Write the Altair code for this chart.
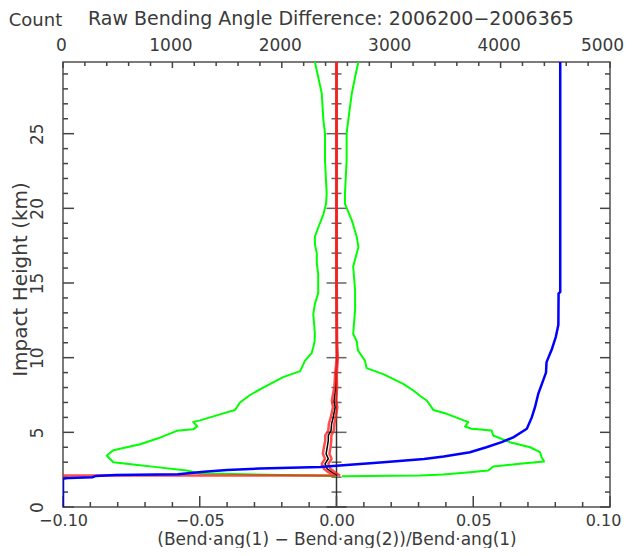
import altair as alt
import pandas as pd

# ---------------- data ----------------
# green envelope, left branch (fractional difference, impact height km)
green_left_x = [-0.0079, -0.0067, -0.0054, -0.0048, -0.0042, -0.0042, -0.0036, -0.0038, -0.0048, -0.0067,
                -0.0079, -0.0079, -0.0072, -0.0072, -0.0067, -0.0067, -0.0067, -0.0079, -0.0085, -0.0082,
                -0.0079, -0.0080, -0.0085, -0.0091, -0.0115, -0.0133, -0.0195, -0.0268, -0.0316, -0.0353,
                -0.0371, -0.0426, -0.0499, -0.0524, -0.0509, -0.0524, -0.0584, -0.0652, -0.0718, -0.0816,
                -0.0840, -0.0816, -0.0743, -0.0657, -0.0548, -0.0500, -0.0420, 0.0]
green_left_h = [29.8, 28.8, 27.7, 25.9, 25.0, 23.2, 21.0, 20.3, 19.6, 18.7,
                18.1, 17.6, 17.0, 16.3, 15.6, 14.9, 14.3, 13.6, 12.9, 12.3,
                11.6, 11.1, 10.7, 10.3, 9.8, 9.1, 8.7, 8.0, 7.5, 7.0,
                6.5, 6.2, 5.8, 5.7, 5.4, 5.2, 5.1, 4.6, 4.2, 3.8,
                3.45, 3.0, 2.85, 2.67, 2.44, 2.25, 2.22, 2.08]

# green envelope, right branch
green_right_x = [0.0080, 0.0068, 0.0056, 0.0043, 0.0037, 0.0037, 0.0031, 0.0031, 0.0056, 0.0074,
                 0.0080, 0.0061, 0.0068, 0.0068, 0.0061, 0.0074, 0.0078, 0.0104, 0.0110, 0.0171,
                 0.0244, 0.0281, 0.0305, 0.0330, 0.0354, 0.0403, 0.0482, 0.0470, 0.0494, 0.0567,
                 0.0573, 0.0634, 0.0708, 0.0744, 0.0750, 0.0759, 0.0671, 0.0573, 0.0555, 0.0488,
                 0.0390, 0.0305, 0.0020]
green_right_h = [29.8, 28.8, 27.7, 25.9, 25.0, 23.2, 21.0, 20.3, 19.2, 18.1,
                 17.4, 16.1, 14.5, 13.2, 11.6, 11.1, 10.5, 9.8, 9.3, 8.9,
                 8.25, 7.8, 7.45, 7.13, 6.5, 6.24, 5.68, 5.39, 5.24, 5.12,
                 4.79, 4.34, 4.0, 3.67, 3.34, 3.05, 2.89, 2.71, 2.44, 2.33,
                 2.18, 2.11, 2.06]

# black mean profile
mean_x = [0.0, 0.0, 0.0, 0.0001, 0.0003, -0.0002, -0.0003, -0.0009, -0.0005, -0.0012,
          -0.0018, -0.0020, -0.0030, -0.0030, -0.0034, -0.0038, -0.0030, -0.0042, -0.0034, -0.0018, 0.0003]
mean_h = [29.8, 20.0, 15.0, 11.15, 10.0, 8.9, 8.0, 7.13, 6.68, 6.0,
          5.57, 5.12, 4.79, 4.45, 4.0, 3.56, 3.23, 2.89, 2.56, 2.33, 2.11]

# red band around the mean
red_lo_x = [-0.0001, -0.0001, -0.0001, 0.0000, 0.0001, -0.0005, -0.0008, -0.0017, -0.0013, -0.0021,
            -0.0028, -0.0030, -0.0041, -0.0041, -0.0046, -0.0050, -0.0042, -0.0054, -0.0046, -0.0030,
            -0.0007, -0.6]
red_lo_h = [29.8, 20.0, 15.0, 11.15, 10.0, 8.9, 8.0, 7.13, 6.68, 6.0,
            5.57, 5.12, 4.79, 4.45, 4.0, 3.56, 3.23, 2.89, 2.56, 2.33,
            2.11, 2.10]
red_hi_x = [0.0001, 0.0001, 0.0001, 0.0002, 0.0005, 0.0001, 0.0002, -0.0001, 0.0003, -0.0003,
            -0.0008, -0.0010, -0.0019, -0.0019, -0.0022, -0.0026, -0.0018, -0.0030, -0.0022, -0.0006, 0.0013]
red_hi_h = [29.8, 20.0, 15.0, 11.15, 10.0, 8.9, 8.0, 7.13, 6.68, 6.0,
            5.57, 5.12, 4.79, 4.45, 4.0, 3.56, 3.23, 2.89, 2.56, 2.33, 2.11]

# blue count profile (top axis)
count_x = [0, 0, 60, 270, 300, 480, 1050, 1290, 1500, 1800, 2350, 2500, 2930, 3300, 3480, 3720,
           3870, 4010, 4120, 4240, 4285, 4315, 4345, 4390, 4415, 4420, 4470, 4505, 4528, 4530, 4545, 4545]
count_h = [0.0, 1.89, 1.95, 2.0, 2.08, 2.15, 2.2, 2.36, 2.47, 2.58, 2.68, 2.77, 3.0, 3.22, 3.38, 3.67,
           4.0, 4.34, 4.68, 5.24, 6.0, 6.7, 7.6, 8.5, 9.0, 9.7, 10.6, 11.4, 12.2, 14.3, 14.4, 29.8]

# axis label values
x_tick_labels = [-0.10, -0.05, 0.00, 0.05, 0.10]
y_tick_labels = [0, 5, 10, 15, 20, 25]
count_tick_labels = [0, 1000, 2000, 3000, 4000, 5000]

title_text = "Raw Bending Angle Difference: 2006200\u22122006365"
x_title = "(Bend\u00b7ang(1) \u2212 Bend\u00b7ang(2))/Bend\u00b7ang(1)"
y_title = "Impact Height (km)"
count_title = "Count"

# minor/major tick positions (axis decoration)
x_minor = [round(-0.10 + 0.01 * k, 2) for k in range(21) if k % 5 != 0]
x_major = [round(-0.10 + 0.05 * k, 2) for k in range(5)]
h_minor = [k for k in range(1, 30) if k % 5 != 0]
h_major = [k for k in range(0, 30) if k % 5 == 0]
c_minor = [k for k in range(0, 5001, 200) if k % 1000 != 0]
c_major = [k for k in range(0, 5001, 1000)]

# ---------------- chart ----------------
W, H = 547, 445
FONT = "DejaVu Sans"
TXT = "#3a3a3a"
TICK = "#444444"

xscale = alt.Scale(domain=[-0.10, 0.10], nice=False, zero=False)
yscale = alt.Scale(domain=[0, 29.8], nice=False, zero=False)
cscale = alt.Scale(domain=[0, 5000], nice=False, zero=False)

x_axis = alt.Axis(values=x_tick_labels, format=".2f", orient="bottom", title=x_title,
                  labelPadding=5, labelFlush=False, labelOverlap=False, labelFontSize=16,
                  labelOffset={"condition": {"test": "datum.value > 0.09", "value": -7}, "value": 0},
                  titleY=32, titleBaseline="middle", titleFontSize=17)
y_axis = alt.Axis(values=y_tick_labels, orient="left", labelAngle=270, labelAlign="center",
                  labelBaseline="alphabetic", labelPadding=21, labelFlush=False, labelOverlap=False,
                  title=y_title, titleX=-43, titleY=217, titleAngle=270, titleAlign="center",
                  titleBaseline="middle", titleFontSize=20)
c_axis = alt.Axis(values=count_tick_labels, format="d", orient="top", labelPadding=12,
                  labelBaseline="alphabetic", labelFlush=False, labelOverlap=False,
                  labelOffset={"condition": {"test": "datum.value == 5000", "value": -8}, "value": -2},
                  title=count_title, titleX=-28, titleY=-42, titleAngle=0, titleAlign="center",
                  titleBaseline="middle", titleFontSize=18)


def df_xy(xs, hs):
    return pd.DataFrame({"x": xs, "h": hs, "i": list(range(len(xs)))})


def profile(xs, hs, color, width, opacity=1.0):
    return alt.Chart(df_xy(xs, hs)).mark_line(
        color=color, strokeWidth=width, opacity=opacity, clip=True, strokeJoin="round"
    ).encode(
        x=alt.X("x:Q", scale=xscale, axis=x_axis),
        y=alt.Y("h:Q", scale=yscale, axis=y_axis),
        order="i:Q",
    )


def x_ticks(vals, length):
    return alt.Chart(pd.DataFrame({"v": vals})).mark_rule(color=TICK, strokeWidth=1.5).encode(
        x=alt.X("v:Q", scale=xscale, axis=x_axis),
        y=alt.value(H), y2=alt.value(H - length),
    )


def side_ticks(vals, x0, x1):
    return alt.Chart(pd.DataFrame({"h": vals})).mark_rule(color=TICK, strokeWidth=1.5).encode(
        y=alt.Y("h:Q", scale=yscale, axis=y_axis),
        x=alt.value(x0), x2=alt.value(x1),
    )


def center_ticks(vals, size):
    return alt.Chart(pd.DataFrame({"h": vals, "z": [0.0] * len(vals)})).mark_tick(
        orient="horizontal", size=size, thickness=1.5, color="#222222"
    ).encode(
        x=alt.X("z:Q", scale=xscale, axis=x_axis),
        y=alt.Y("h:Q", scale=yscale, axis=y_axis),
    )


def c_ticks(vals, length):
    return alt.Chart(pd.DataFrame({"c": vals})).mark_rule(color=TICK, strokeWidth=1.5).encode(
        x=alt.X("c:Q", scale=cscale, axis=c_axis),
        y=alt.value(0), y2=alt.value(length),
    )


zero_line = alt.Chart(pd.DataFrame({"z": [0.0]})).mark_rule(color="#333333", strokeWidth=1.5).encode(
    x=alt.X("z:Q", scale=xscale, axis=x_axis)
)

title_mark = alt.Chart(pd.DataFrame({"t": [title_text]})).mark_text(
    font=FONT, fontSize=19, color=TXT, align="center", baseline="middle"
).encode(x=alt.value(268), y=alt.value(-43), text="t:N")

layer_main = alt.layer(
    zero_line,
    center_ticks(h_minor, 10),
    center_ticks(h_major, 20),
    x_ticks(x_minor, 5),
    x_ticks(x_major, 11),
    side_ticks(h_minor, 0, 5),
    side_ticks(h_major, 0, 11),
    side_ticks(h_minor, W, W - 5),
    side_ticks(h_major, W, W - 10),
    profile(green_left_x, green_left_h, "#00ff00", 2),
    profile(green_right_x, green_right_h, "#00ff00", 2),
    profile(mean_x, mean_h, "#000000", 1.5),
    profile(red_lo_x, red_lo_h, "#ff2020", 2.5, 0.8),
    profile(red_hi_x, red_hi_h, "#ff2020", 2.5, 0.8),
    title_mark,
)

blue = alt.Chart(df_xy(count_x, count_h)).mark_line(
    color="#0000ff", strokeWidth=2.5, clip=True
).encode(
    x=alt.X("x:Q", scale=cscale, axis=c_axis),
    y=alt.Y("h:Q", scale=yscale, axis=y_axis),
    order="i:Q",
)

layer_count = alt.layer(blue, c_ticks(c_minor, 4), c_ticks(c_major, 6))

chart = alt.layer(layer_main, layer_count).resolve_scale(x="independent").properties(
    width=W, height=H,
    padding={"left": 55, "top": 54, "right": 14, "bottom": 41},
    autosize=alt.AutoSizeParams(type="none"),
    background="white",
).configure_view(
    stroke="#505050", strokeWidth=1.5
).configure_axis(
    domain=False, ticks=False, tickSize=0, grid=False,
    labelFont=FONT, labelFontSize=17, labelColor=TXT,
    titleFont=FONT, titleFontWeight="normal", titleColor=TXT,
)

chart.save("out.html", embed_options={"renderer": "svg", "actions": False})
